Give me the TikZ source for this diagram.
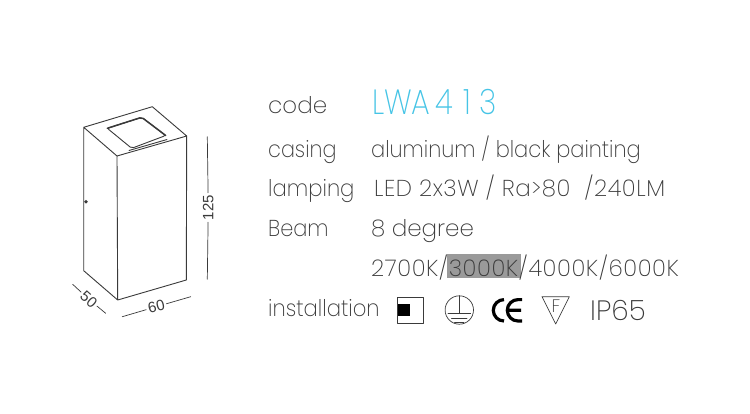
\documentclass[tikz,border=0pt]{standalone}
\usepackage{fontspec}
\setmainfont{Poppins}[UprightFont=* ExtraLight]
\newfontfamily\dimfont{Liberation Sans}
\newcommand{\squeeze}[1]{\addfontfeature{FakeStretch=#1}}
\newcommand{\spread}[1]{\addfontfeature{LetterSpace=#1}}
\definecolor{inkgray}{HTML}{3A3A3A}
\definecolor{codeblue}{HTML}{45C4E6}
\definecolor{markgray}{HTML}{9A9A9A}
\tikzset{
	rowtext/.style={anchor=base west, inner sep=0pt, text=inkgray, font=\fontsize{23}{23}\selectfont},
	dimtext/.style={inner sep=2pt, text=inkgray, font=\dimfont\fontsize{15}{15}\selectfont},
	lampline/.style={draw=inkgray, line width=0.9pt},
	thinline/.style={draw=inkgray, line width=0.7pt}
}
\begin{document}
\begin{tikzpicture}[x=1pt, y=-1pt, line join=round, line cap=round]
	\useasboundingbox[fill=white] (0,0) rectangle (750,413);
	% lamp body
	\coordinate (BL) at (83.7,127.3);
	\coordinate (BR) at (152.3,106.7);
	\coordinate (TR) at (186.7,136);
	\coordinate (TF) at (117,156);
	\coordinate (FF) at (117.7,300);
	\coordinate (FR) at (186.3,280);
	\coordinate (FL) at (83.7,270.7);
	\draw[lampline] (BL)--(BR)--(TR)--(TF)--cycle (TF)--(FF) (TR)--(FR)--(FF)--(FL)--(BL);
	% lens
	\coordinate (L1) at (107.3,128.3);
	\coordinate (L2) at (141.7,117.3);
	\coordinate (L3) at (165.7,135.5);
	\coordinate (L4) at (131.7,148.3);
	\coordinate (L5) at (129,150.5);
	\coordinate (L6) at (167,139.5);
	\draw[lampline, rounded corners=2pt] (L1)--(L2)--(L3)--(L4)--cycle;
	\draw[lampline, line width=1.5pt, rounded corners=2pt] (L1)--(L2)--(L3);
	\draw[lampline] (L5)--(L6);
	\fill[inkgray] (86,201.7) circle(1.8pt);
	% dimensions
	\node[dimtext, rotate=90] (H) at (208.3,207.5) {125};
	\coordinate (H1) at (207.3,136.7);
	\coordinate (H2) at (207.3,279.3);
	\draw[thinline] (H1)--(H) (H)--(H2);
	\node[dimtext, rotate=14] (W) at (156.3,306.7) {60};
	\coordinate (W1) at (122.3,316.7);
	\coordinate (W2) at (190.7,296.7);
	\draw[thinline] (W1)--(W) (W)--(W2);
	\node[dimtext, rotate=-42] (D) at (88.8,299.3) {50};
	\coordinate (D1) at (72.7,284.3);
	\coordinate (D2) at (105.7,313.3);
	\draw[thinline] (D1)--(D) (D)--(D2);
	% table
	\node[rowtext] (code) at (268,113.5) {code};
	\node[rowtext, text=codeblue, font=\fontsize{35}{35}\selectfont] (model) at (372,114) {\squeeze{.85}LWA\kern5pt 4\kern10pt 1\kern9pt 3};
	\node[rowtext] (casing) at (268,157) {\squeeze{.9}casing};
	\node[rowtext] (alu) at (371,157) {\squeeze{.91}aluminum / black painting};
	\node[rowtext] (lamping) at (268,196.7) {\squeeze{.92}lamping};
	\node[rowtext] (led) at (374,196.7) {\spread{2.3}LED 2x3W / Ra>80\ \ /240LM};
	\node[rowtext] (beam) at (268,236.7) {\squeeze{.91}Beam};
	\node[rowtext] (deg) at (371,236.7) {8 degree};
	\fill[markgray] (447,254.3) rectangle (521,278);
	\node[rowtext] (cct) at (371,276) {\spread{2.5}2700K/3000K/4000K/6000K};
	\node[rowtext] (inst) at (268,316) {\squeeze{.92}installation};
	% symbols
	\draw[draw=inkgray, line width=0.8pt] (397.3,297.3) rectangle (423.7,323.3);
	\fill[black] (398.3,304) rectangle (410,316);
	\coordinate (E) at (459.3,310);
	\draw[thinline] (E) circle(14.2);
	\draw[thinline] (459.3,295.8)--(459.3,313.5) (448,313.5)--(470.6,313.5) (451.5,318)--(467,318) (454.5,322)--(464,322);
	\draw[black, line width=3.2pt, line cap=butt] (504,299.6) arc(270:90:10.7);
	\draw[black, line width=3.2pt, line cap=butt] (522,299.6)--(518,299.6) arc(270:90:10.7)--(522,321) (509,310.3)--(521,310.3);
	\coordinate (T1) at (542,296.7);
	\coordinate (T2) at (569.3,296.7);
	\coordinate (T3) at (555.7,324);
	\draw[thinline] (T1)--(T2)--(T3)--cycle;
	\node[inner sep=0pt, text=inkgray, font=\fontsize{18}{18}\selectfont] (F) at (556,306.5) {F};
	\node[rowtext, font=\fontsize{28}{28}\selectfont] (ip) at (590,320.7) {IP65};
\end{tikzpicture}
\end{document}
